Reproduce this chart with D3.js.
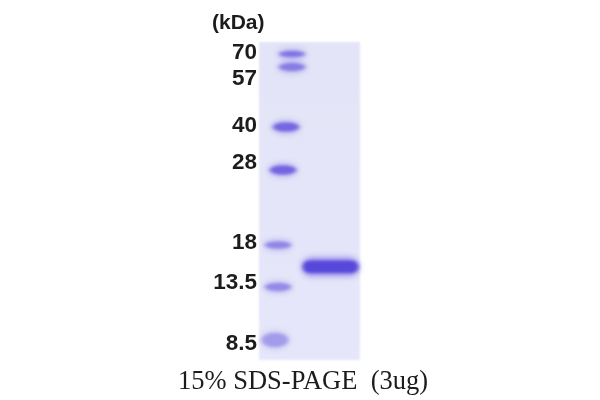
<!DOCTYPE html>
<html>
<head>
<meta charset="utf-8">
<script src="https://cdn.jsdelivr.net/npm/d3@7"></script>
<style>
html, body { margin: 0; padding: 0; background: #fff; }
svg { display: block; }
</style>
</head>
<body>
<svg id="chart" width="600" height="400"></svg>
<script>
// ladder
const ladderKda = [70, 57, 40, 28, 18, 13.5, 8.5]
const ladderLabels = ["70", "57", "40", "28", "18", "13.5", "8.5"]
const ladderStrength = [0.58, 0.52, 0.66, 0.68, 0.45, 0.42, 0.3]
// the loaded protein
const sampleKda = [15.5]
const sampleStrength = [1]

const svg = d3.select("#chart")

// migration distance, anchored on each marker
const bandY = d3.scaleLog().domain(ladderKda).range([54, 67, 127, 170, 245, 287, 340])
const labelY = d3.scaleLog().domain(ladderKda).range([51, 77, 124, 161, 241, 281, 342])
// the lane leans to the left going down
const laneX = d3.scaleLog().domain(ladderKda).range([292, 292, 286, 283, 278, 278, 275])
const bandH = d3.scaleLog().domain(ladderKda).range([3, 4, 4.5, 4.5, 3.5, 4, 7])
const bandColor = d3.scaleLinear().domain([0, 1]).range(["#c9c6f2", "#4a35d8"])

const defs = svg.append("defs")
const bg = defs.append("linearGradient").attr("id", "gel").attr("x1", 0).attr("x2", 0).attr("y1", 0).attr("y2", 1)
bg.append("stop").attr("offset", "0%").attr("stop-color", "#e3e4f7")
bg.append("stop").attr("offset", "100%").attr("stop-color", "#e5e6fa")
defs.append("filter").attr("id", "edge").append("feGaussianBlur").attr("stdDeviation", 1)
defs.append("filter").attr("id", "soft").attr("x", "-30%").attr("y", "-150%").attr("width", "160%").attr("height", "400%")
    .append("feGaussianBlur").attr("stdDeviation", "2 1.6")
defs.append("filter").attr("id", "halo").attr("x", "-30%").attr("y", "-150%").attr("width", "160%").attr("height", "400%")
    .append("feGaussianBlur").attr("stdDeviation", "3 3")
defs.append("filter").attr("id", "txt").append("feGaussianBlur").attr("stdDeviation", 0.4)

svg.append("rect")
   .attr("x", 259)
   .attr("y", 42)
   .attr("width", 101)
   .attr("height", 318)
   .attr("fill", "url(#gel)")
   .attr("filter", "url(#edge)")

// faint glow round each marker
svg.append("g")
   .attr("filter", "url(#halo)")
   .attr("opacity", 0.45)
   .selectAll("ellipse")
   .data(ladderKda)
   .enter()
   .append("ellipse")
   .attr("cx", (d) => laneX(d))
   .attr("cy", (d) => bandY(d))
   .attr("rx", 14)
   .attr("ry", (d) => bandH(d) + 2)
   .attr("fill", (d, i) => bandColor(ladderStrength[i]))

svg.append("g")
   .attr("filter", "url(#soft)")
   .selectAll("ellipse")
   .data(ladderKda)
   .enter()
   .append("ellipse")
   .attr("cx", (d) => laneX(d))
   .attr("cy", (d) => bandY(d))
   .attr("rx", 13)
   .attr("ry", (d) => bandH(d))
   .attr("fill", (d, i) => bandColor(ladderStrength[i]))

// main band: x runs from the lane edge to the gel edge
svg.append("g")
   .attr("filter", "url(#halo)")
   .attr("opacity", 0.55)
   .selectAll("rect")
   .data(sampleKda)
   .enter()
   .append("rect")
   .attr("x", 302)
   .attr("y", (d) => bandY(d) - 9)
   .attr("width", 57)
   .attr("height", 18)
   .attr("rx", 9)
   .attr("fill", (d, i) => bandColor(sampleStrength[i]))

svg.append("g")
   .attr("filter", "url(#soft)")
   .selectAll("rect")
   .data(sampleKda)
   .enter()
   .append("rect")
   .attr("x", 303)
   .attr("y", (d) => bandY(d) - 6)
   .attr("width", 55)
   .attr("height", 12)
   .attr("rx", 6)
   .attr("fill", (d, i) => bandColor(sampleStrength[i] * 0.88))

const labels = svg.append("g")
   .attr("filter", "url(#txt)")
   .attr("font-family", "'Liberation Sans', Arial, sans-serif")
   .attr("font-weight", "bold")
   .attr("fill", "#1c1c1c")

labels.selectAll("text")
   .data(ladderLabels)
   .enter()
   .append("text")
   .attr("x", 257)
   .attr("y", (d, i) => labelY(ladderKda[i]))
   .attr("dy", "0.36em")
   .attr("text-anchor", "end")
   .attr("font-size", 22.5)
   .text((d) => d)

labels.append("text")
   .attr("x", 212)
   .attr("y", 29)
   .attr("font-size", 21)
   .text("(kDa)")

svg.append("text")
   .attr("x", 178)
   .attr("y", 389)
   .attr("filter", "url(#txt)")
   .attr("font-family", "'Liberation Serif', 'Times New Roman', serif")
   .attr("font-size", 26.5)
   .attr("fill", "#1c1c1c")
   .style("white-space", "pre")
   .text("15% SDS-PAGE  (3ug)")
</script>
</body>
</html>
